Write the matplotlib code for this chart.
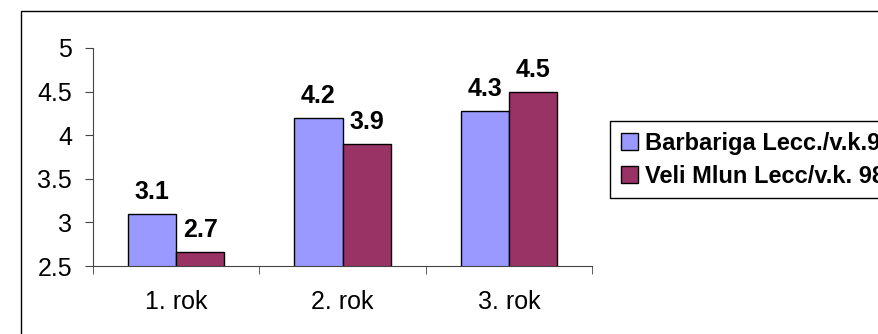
import numpy as np
import matplotlib.pyplot as plt
from matplotlib.patches import Rectangle
from matplotlib import rc

rc("font", family=["Liberation Sans", "DejaVu Sans"], size=18.)

# data
categories = ["1. rok", "2. rok", "3. rok"]
barbariga = [3.1, 4.2, 4.28]
veli_mlun = [2.66, 3.9, 4.5]
series_names = ["Barbariga Lecc./v.k.98", "Veli Mlun Lecc/v.k. 98"]
colors = ["#9999FF", "#993366"]

fig = plt.figure(figsize=(8.79, 3.34), dpi=100)
ax = fig.add_axes([93/879, 1 - 266/334, (592 - 93)/879, (266 - 48)/334])

# outer chart border (runs off the right and bottom edge)
fig.patches.append(Rectangle((21/879, -0.1), 1.2, 1 - 11/334 + 0.1,
                             transform=fig.transFigure, fill=False,
                             edgecolor="black", linewidth=1.0))

x = np.arange(len(categories))
w = 0.29
b1 = ax.bar(x, barbariga, width=-w, align="edge", color=colors[0],
            edgecolor="black", linewidth=1.0)
b2 = ax.bar(x, veli_mlun, width=w, align="edge", color=colors[1],
            edgecolor="black", linewidth=1.0)

for bars, vals in ((b1, barbariga), (b2, veli_mlun)):
    for rect, v in zip(bars, vals):
        ax.annotate("%.1f" % v, (rect.get_x() + rect.get_width()/2, v),
                    xytext=(0, 7), textcoords="offset points",
                    ha="center", va="bottom", fontweight="bold", fontsize=18)

ax.set_ylim(2.5, 5)
ax.set_xlim(-0.5, 2.5)
ax.set_yticks([2.5, 3, 3.5, 4, 4.5, 5])
ax.set_yticklabels(["2.5", "3", "3.5", "4", "4.5", "5"])
ax.set_xticks(x)
ax.set_xticklabels(categories)
ax.set_xticks([-0.5, 0.5, 1.5, 2.5], minor=True)
ax.tick_params(axis="x", which="major", length=0, pad=17)
ax.tick_params(axis="x", which="minor", length=6, direction="out", color="#444444")
ax.tick_params(axis="y", length=6, direction="out", pad=9, color="#444444")

for s in ("top", "right"):
    ax.spines[s].set_visible(False)
for s in ("left", "bottom"):
    ax.spines[s].set_color("#444444")

handles = [Rectangle((0, 0), 1, 1, facecolor=c, edgecolor="black", linewidth=1.0)
           for c in colors]
leg = fig.legend(handles, series_names, loc="upper left",
                 bbox_to_anchor=(610/879, 1 - 121/334), borderaxespad=0,
                 fancybox=False, edgecolor="black", framealpha=1,
                 prop=dict(weight="bold", size=17), handlelength=0.72,
                 handleheight=0.72, handletextpad=0.3, labelspacing=0.42,
                 borderpad=0.45)
leg.get_frame().set_linewidth(1.0)

fig.savefig("out.png", dpi=100)
